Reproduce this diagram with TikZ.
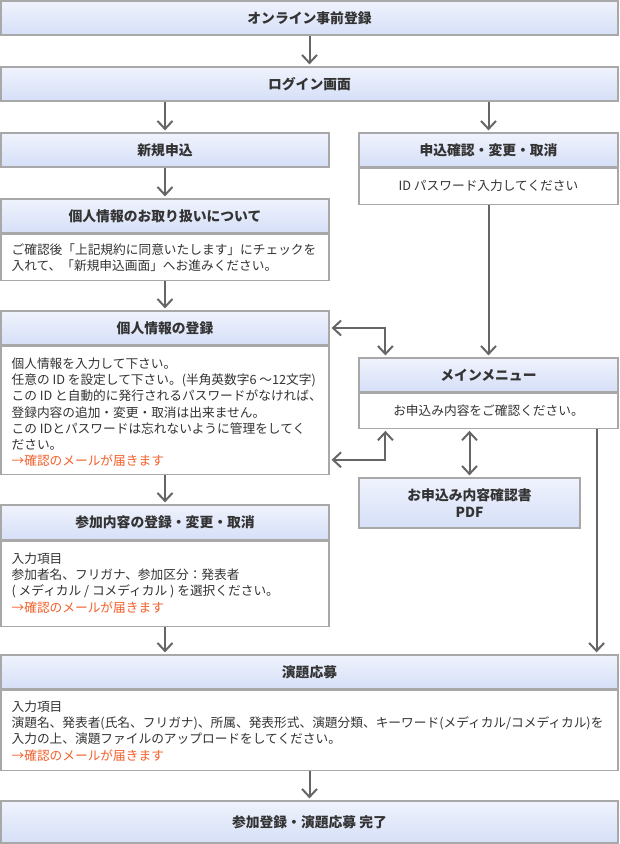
\documentclass[tikz,border=0pt]{standalone}
\usepackage{fontspec}
\setmainfont{Noto Sans CJK JP}
\usetikzlibrary{arrows.meta}
\definecolor{bd}{HTML}{A8A8A8}
\definecolor{tx}{HTML}{333333}
\definecolor{ar}{HTML}{666666}
\definecolor{ht}{HTML}{F0F3FD}
\definecolor{hb}{HTML}{D5DFF7}
\definecolor{orng}{HTML}{F2602B}
\tikzset{
  hdr/.style={draw=bd, line width=1.2pt, top color=ht, bottom color=hb, text=tx,
    font=\bfseries\fontsize{13.8}{17}\selectfont, inner sep=0pt, align=center},
  bodybox/.style={draw=bd, line width=1.2pt, fill=white, inner sep=0pt, anchor=north},
  txt/.style={font=\fontsize{12.7}{16.2}\selectfont, text=tx, align=left, inner sep=0pt, anchor=north west},
  ctxt/.style={font=\fontsize{12.7}{16.2}\selectfont, text=tx, inner sep=0pt},
  tipb/.tip={Straight Barb[length=8pt,width=15pt]},
  arr/.style={draw=ar, line width=2pt, -tipb, shorten >=2pt},
  dbl/.style={draw=ar, line width=2pt, tipb-tipb, shorten >=2pt, shorten <=2pt},
}
\begin{document}
\begin{tikzpicture}[x=1pt,y=-1pt]
\useasboundingbox (0,0) rectangle (619,844);
% top boxes
\node[hdr, minimum width=617pt, minimum height=34pt] (B1) at (309.5,18) {オンライン事前登録};
\node[hdr, minimum width=617pt, minimum height=34pt] (B2) at (309.5,84) {ログイン画面};
% left column
\node[hdr, minimum width=328pt, minimum height=34pt] (Sh) at (165,150) {新規申込};
\node[hdr, minimum width=328pt, minimum height=34pt] (Th) at (165,216) {個人情報のお取り扱いについて};
\node[bodybox, minimum width=328pt, minimum height=46pt] (Tb) at (Th.south) {};
\node[txt] (Tt) at ([shift={(11pt,-9.5pt)}]Tb.north west) {ご確認後「上記規約に同意いたします」にチェックを\\入れて、「新規申込画面」へお進みください。};
\node[hdr, minimum width=328pt, minimum height=34pt] (Rh) at (165,328) {個人情報の登録};
\node[bodybox, minimum width=328pt, minimum height=128pt] (Rb) at (Rh.south) {};
\node[txt] (Rt) at ([shift={(11pt,-12pt)}]Rb.north west) {個人情報を入力して下さい。\\任意の ID を設定して下さい。(半角英数字6 ～12文字)\\この ID と自動的に発行されるパスワードがなければ、\\登録内容の追加・変更・取消は出来ません。\\この IDとパスワードは忘れないように管理をしてく\\ださい。\\{\color{orng}→確認のメールが届きます}};
\node[hdr, minimum width=328pt, minimum height=35pt] (Ah) at (165,522.5) {参加内容の登録・変更・取消};
\node[bodybox, minimum width=328pt, minimum height=85pt] (Ab) at (Ah.south) {};
\node[txt] (At) at ([shift={(11pt,-12pt)}]Ab.north west) {入力項目\\参加者名、フリガナ、参加区分：発表者\\( メディカル / コメディカル ) を選択ください。\\{\color{orng}→確認のメールが届きます}};
% right column
\node[hdr, minimum width=259pt, minimum height=34pt] (Kh) at (488.5,150) {申込確認・変更・取消};
\node[bodybox, minimum width=259pt, minimum height=36pt] (Kb) at (Kh.south) {};
\node[ctxt] (Kt) at (Kb.center) {ID パスワード入力してください};
\node[hdr, minimum width=259pt, minimum height=34pt] (Mh) at (488.5,375) {メインメニュー};
\node[bodybox, minimum width=259pt, minimum height=35pt] (Mb) at (Mh.south) {};
\node[ctxt] (Mt) at (Mb.center) {お申込み内容をご確認ください。};
\node[hdr, minimum width=221pt, minimum height=50pt] (P) at (469.5,503) {お申込み内容確認書\\PDF};
% bottom
\node[hdr, minimum width=617pt, minimum height=34pt] (Eh) at (309.5,672) {演題応募};
\node[bodybox, minimum width=617pt, minimum height=80pt] (Eb) at (Eh.south) {};
\node[txt] (Et) at ([shift={(11pt,-11pt)}]Eb.north west) {入力項目\\演題名、発表者(氏名、フリガナ)、所属、発表形式、演題分類、キーワード(メディカル/コメディカル)を\\入力の上、演題ファイルのアップロードをしてください。\\{\color{orng}→確認のメールが届きます}};
\node[hdr, minimum width=617pt, minimum height=42pt] (F) at (309.5,822) {参加登録・演題応募 完了};
% connectors
\draw[arr] (B1.south) -- (B2.north);
\draw[arr] (B2.south -| Sh.north) -- (Sh.north);
\draw[arr] (B2.south -| Kh.north) -- (Kh.north);
\draw[arr] (Sh.south) -- (Th.north);
\draw[arr] (Tb.south) -- (Rh.north);
\draw[arr] (Rb.south) -- (Ah.north);
\draw[arr] (Ab.south) -- (Ah.north |- Eh.north);
\draw[arr] (Eb.south) -- (F.north);
\draw[arr] (Kb.south) -- (Mh.north);
\draw[dbl] (Rh.east) -| ([xshift=27pt]Mh.north west);
\draw[dbl] ([yshift=15pt]Rb.south east) -| ([xshift=27pt]Mb.south west);
\draw[dbl] (Mb.south -| P.north) -- (P.north);
\draw[arr] ([xshift=-22pt]Mb.south east) -- ([xshift=-22pt]Mb.south east |- Eh.north);
\end{tikzpicture}
\end{document}
